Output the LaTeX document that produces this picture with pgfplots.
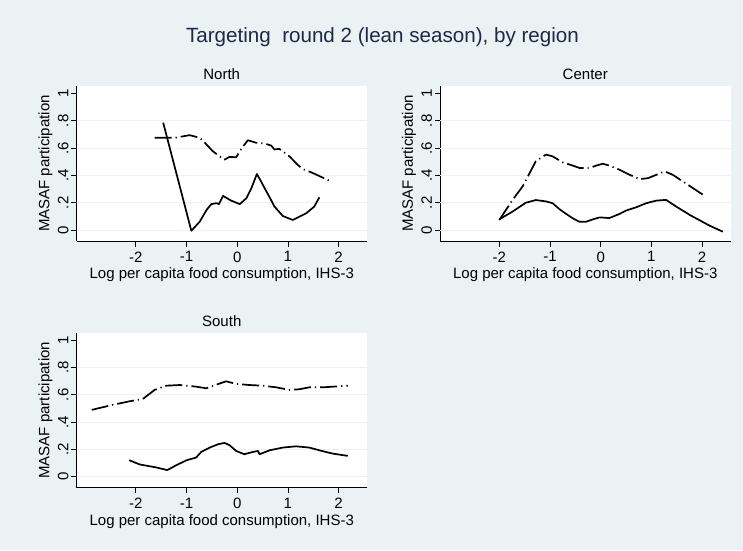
\documentclass[border=0pt]{standalone}
\usepackage{fontspec}
\setmainfont{Liberation Sans}
\usepackage{pgfplots}
\pgfplotsset{compat=1.18}
\definecolor{bgc}{RGB}{234,242,243}
\definecolor{gridc}{RGB}{234,242,243}
\definecolor{titlec}{RGB}{30,40,72}
\pgfplotsset{panel/.style={
  scale only axis, width=290.5pt, height=155pt,
  xmin=-3.17, xmax=2.56, ymin=-0.08, ymax=1.055,
  axis x line*=bottom, axis y line*=left,
  axis line style={black, line width=0.8pt},
  axis background/.style={fill=white},
  xtick={-2,-1,0,1,2}, xticklabels={-2,-1,0,1,2},
  ytick={0,0.2,0.4,0.6,0.8,1}, yticklabels={0,.2,.4,.6,.8,1},
  tick align=outside, major tick length=5.5pt,
  tick style={black, line width=0.8pt},
  extra y ticks={0,0.2,0.4,0.6,0.8}, extra y tick labels={},
  extra y tick style={grid=major, major tick length=0pt},
  major grid style={draw=gridc, line width=1pt},
  ticklabel style={font=\fontsize{15}{18}\selectfont, inner sep=0pt},
  xticklabel style={anchor=north},
  xticklabel shift=4.9pt,
  yticklabel style={rotate=90, anchor=base},
  yticklabel shift=2.6pt,
  xlabel={Log per capita food consumption, IHS-3},
  ylabel={MASAF participation},
  label style={font=\fontsize{15}{18}\selectfont, inner sep=0pt},
  xlabel style={at={(axis description cs:0.5,-0.242)}, anchor=base},
  ylabel style={at={(axis description cs:-0.0936,0.5)}, anchor=base, rotate=0},
  every axis title shift=0pt,
  title style={at={(axis description cs:0.5,1.042)}, anchor=base, font=\fontsize{15}{18}\selectfont, inner sep=0pt},
  clip=false,
}}
\tikzset{sol/.style={black, line width=1.7pt, line join=round},
         dd/.style={black, line width=1.7pt, line join=round, dash pattern=on 17pt off 4pt on 1.2pt off 4pt}}
\begin{document}
\begin{tikzpicture}[x=1pt,y=1pt]
\fill[bgc] (0,0) rectangle (743,550);
\useasboundingbox (0,0) rectangle (743,550);
\node[anchor=base, font=\fontsize{20.6}{24}\selectfont, text=titlec, inner sep=0pt] at (382.5,507.3) {Targeting\ \ round 2 (lean season), by region};

% North
\begin{axis}[panel, at={(76.5pt,309pt)}, anchor=south west, title={North}]
\addplot[sol] coordinates {
(-1.46,0.786) (-0.905,-0.005) (-0.74,0.061) (-0.60,0.15) (-0.51,0.19)
(-0.41,0.197) (-0.36,0.19) (-0.28,0.25) (-0.12,0.216) (0.05,0.19)
(0.18,0.233) (0.28,0.307) (0.387,0.41) (0.45,0.37) (0.54,0.307)
(0.64,0.24) (0.735,0.172) (0.90,0.103) (1.095,0.074) (1.36,0.123)
(1.52,0.172) (1.62,0.24)};
\addplot[dd] coordinates {
(-1.63,0.676) (-1.23,0.676) (-0.94,0.695) (-0.74,0.676) (-0.64,0.64)
(-0.48,0.577) (-0.35,0.54) (-0.25,0.516) (-0.15,0.536) (-0.02,0.533)
(0.08,0.595) (0.21,0.658) (0.375,0.639) (0.54,0.634) (0.67,0.619)
(0.735,0.59) (0.83,0.595) (1.03,0.54) (1.19,0.479) (1.29,0.447)
(1.49,0.418) (1.85,0.356)};
\end{axis}

% Center
\begin{axis}[panel, at={(440pt,309pt)}, anchor=south west, title={Center}]
\addplot[sol] coordinates {
(-2.0,0.079) (-1.74,0.135) (-1.48,0.20) (-1.28,0.22) (-1.08,0.21)
(-0.95,0.197) (-0.81,0.152) (-0.68,0.118) (-0.55,0.086) (-0.42,0.061)
(-0.29,0.061) (-0.15,0.079) (-0.02,0.093) (0.17,0.088) (0.37,0.118)
(0.50,0.143) (0.70,0.167) (0.90,0.197) (1.10,0.216) (1.29,0.221)
(1.49,0.172) (1.76,0.11) (2.15,0.032) (2.41,-0.012)};
\addplot[dd] coordinates {
(-2.0,0.074) (-1.74,0.22) (-1.54,0.32) (-1.28,0.504) (-1.08,0.553)
(-0.95,0.54) (-0.75,0.496) (-0.55,0.472) (-0.42,0.455) (-0.22,0.455)
(-0.09,0.472) (0.04,0.486) (0.17,0.472) (0.37,0.442) (0.57,0.405)
(0.77,0.373) (0.93,0.38) (1.10,0.405) (1.26,0.43) (1.42,0.405)
(1.62,0.356) (1.82,0.307) (2.02,0.258)};
\end{axis}

% South
\begin{axis}[panel, at={(76.5pt,62.3pt)}, anchor=south west, title={South}]
\addplot[sol] coordinates {
(-2.13,0.121) (-1.92,0.09) (-1.59,0.068) (-1.38,0.049) (-1.20,0.085)
(-1.0,0.121) (-0.81,0.141) (-0.71,0.182) (-0.54,0.214) (-0.38,0.238)
(-0.25,0.248) (-0.15,0.231) (-0.02,0.189) (0.14,0.165) (0.31,0.182)
(0.41,0.189) (0.44,0.165) (0.64,0.194) (0.90,0.214) (1.16,0.223)
(1.42,0.214) (1.62,0.194) (1.88,0.17) (2.18,0.153)};
\addplot[dd] coordinates {
(-2.87,0.49) (-2.45,0.527) (-2.12,0.553) (-1.86,0.57) (-1.63,0.636)
(-1.40,0.667) (-1.13,0.672) (-0.81,0.66) (-0.61,0.648) (-0.41,0.675)
(-0.22,0.699) (-0.02,0.68) (0.24,0.672) (0.50,0.667) (0.77,0.655)
(1.03,0.636) (1.23,0.641) (1.42,0.655) (1.69,0.655) (2.18,0.667)};
\end{axis}
\end{tikzpicture}
\end{document}
